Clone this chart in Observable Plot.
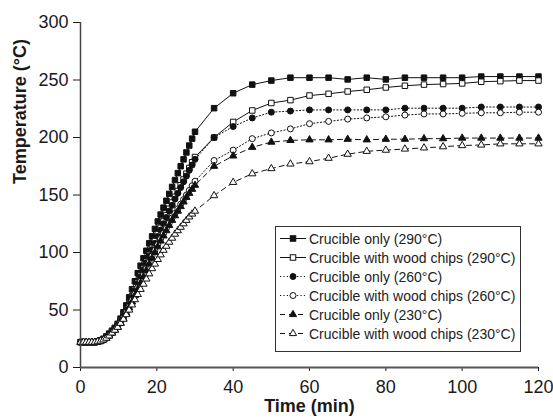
<!DOCTYPE html>
<html>
<head>
<meta charset="utf-8">
<script src="https://cdn.jsdelivr.net/npm/d3@7"></script>
<script src="https://cdn.jsdelivr.net/npm/@observablehq/plot@0.6"></script>
<style>
  body { margin: 0; background: #fff; font-family: "Liberation Sans", Arial, sans-serif; }
  #wrap { position: relative; width: 553px; height: 419px; }
  #legend { position: absolute; left: 275px; top: 226px; width: 246px; height: 126px; box-sizing: border-box;
            border: 1px solid #333; background: #fff; padding-top: 2px; }
  .row { display: flex; align-items: center; height: 19px; font-size: 14px; color: #222; white-space: nowrap; }
  .row svg { flex: none; margin-left: 2px; margin-right: 1px; }
</style>
</head>
<body>
<div id="wrap"><div id="chart"></div><div id="legend"></div></div>
<script>
// Time (min)
const times = [0,0.75,1.5,2.25,3,3.75,4.5,5.25,6,6.75,7.5,8.25,9,9.75,10.5,11.25,12,12.75,13.5,14.25,15,15.75,16.5,17.25,18,18.75,19.5,20.25,21,21.75,22.5,23.25,24,24.75,25.5,26.25,27,27.75,28.5,29.25,30,
  35,40,45,50,55,60,65,70,75,80,85,90,95,100,105,110,115,120];

// Temperature (°C) for each series
const only290 = [22,22,22,22,22,22,22.5,23.5,25,27,29.5,32,34.5,38,42.5,48,54,61,68,75,82,88.5,95,101.5,108,114,120.5,127,133,139,145,151,157,163,169,175,181,187,193,199,205,
  225.5,238.5,246,249.5,252,252,252,250.5,252,250.5,252,252,252,252,253,253,253,253];
const wood290 = [22,22,22,22,22,22,22.5,23,24.5,26,28.5,31,34,37.5,41,45.5,50.5,56,62,68,74,80,86,92,98,104,110,116,121.5,127,132.5,138,143.5,148.5,153.5,158.5,163.5,168.5,173.5,178.5,183,
  200,213.5,223.5,230,232.5,236.5,238,240,241.5,243.5,245,246,246.5,247,248.5,249,249.5,249.5];
const only260 = [22,22,22,22,22,22,22.5,23.5,24.5,26.5,28.5,31,34,37,40.5,45,50,55,61,67,73,79,85,91,97,102.5,108,114,119.5,125,130.5,136,141,146.5,151.5,156.5,161.5,166.5,171.5,176,181,
  200,209.5,217,222,223,224,224,224,224,224,225.5,225.5,225.5,225.5,226.5,226.5,226.5,226.5];
const wood260 = [22,22,22,22,22,22,22.5,23,24,25.5,27.5,30,32.5,35.5,39,43,48,53,58.5,64,69.5,75,80.5,86,91.5,97,102,107,112,116.5,121,125.5,130,134,138,142,146,150,154,158,162,
  180,189,199,204,207.5,212,214,216,217,218,219.5,220.5,220.5,221,221.5,221.5,222,222];
const only230 = [22,22,22,22,22,22,22.5,23,24,25.5,27.5,30,32.5,35,38.5,42.5,47,52,57,62.5,68,73.5,79,84.5,90,95,100,105,110,114.5,119,123.5,128,132,136,140,144,148,151.5,155,158.5,
  175,184,191.5,196,197.5,198,198,198.5,198,198.5,198.5,199,199,199.5,199.5,199.5,199.5,199.5];
const wood230 = [22,22,22,22,22,22,22.5,23,24,25.5,27.5,30,32.5,35,38.5,42,46,50,54.5,59,63.5,68,72.5,77,81.5,86,90,94,98,102,105.5,109,112.5,116,119,122,125,128,131,133.5,136,
  149.5,161,168.5,173,177,179,182,185.5,188,189,190,191,192,193,193.5,194.5,194.5,194.5];

const seriesNames = ["Crucible only (290°C)","Crucible with wood chips (290°C)","Crucible only (260°C)",
  "Crucible with wood chips (260°C)","Crucible only (230°C)","Crucible with wood chips (230°C)"];
const xTicks = [0,20,40,60,80,100,120];
const yTicks = [0,50,100,150,200,250,300];

const seriesValues = [only290, wood290, only260, wood260, only230, wood230];
const styles = [
  {symbol:"square", fill:"#111", dash:null, r:3.1},
  {symbol:"square", fill:"#fff", dash:null, r:3.1},
  {symbol:"circle", fill:"#111", dash:"1.2,2.2", r:3},
  {symbol:"circle", fill:"#fff", dash:"1.2,2.2", r:3},
  {symbol:"triangle", fill:"#111", dash:"5,4", r:2.7},
  {symbol:"triangle", fill:"#fff", dash:"5,4", r:2.7}
];

const marks = [];
seriesValues.forEach((vals, k) => {
  const data = times.map((t, i) => ({t, T: vals[i]}));
  const st = styles[k];
  marks.push(Plot.line(data, {x:"t", y:"T", stroke:"#111", strokeWidth:1, strokeDasharray: st.dash || undefined}));
});
seriesValues.forEach((vals, k) => {
  const data = times.map((t, i) => ({t, T: vals[i]}));
  const st = styles[k];
  marks.push(Plot.dot(data, {x:"t", y:"T", symbol: st.symbol, r: st.r, fill: st.fill, stroke:"#111", strokeWidth:1}));
});

const chart = Plot.plot({
  width: 553, height: 419,
  marginLeft: 80, marginRight: 15, marginTop: 22, marginBottom: 52,
  style: {fontFamily: "'Liberation Sans', Arial, sans-serif", fontSize: "18px", color: "#1a1a1a", background: "#fff"},
  x: {domain: [0, 120]},
  y: {domain: [0, 300]},
  marks: [
    Plot.axisY(yTicks, {tickSize: 7, tickPadding: 5, fontSize: 18, label: null}),
    Plot.axisX(xTicks, {tickSize: 4, tickPadding: 9, fontSize: 18, label: null}),
    ...marks,
    Plot.ruleX([0], {stroke: "#444", strokeWidth: 1.5}),
    Plot.ruleY([0], {stroke: "#555", strokeWidth: 2}),
    Plot.text(["Time (min)"], {frameAnchor: "bottom", dy: 44, fontWeight: "bold", fontSize: 18}),
    Plot.text(["Temperature (°C)"], {frameAnchor: "left", dx: -60, dy: -11, rotate: -90, fontWeight: "bold", fontSize: 18})
  ]
});
document.getElementById("chart").appendChild(chart);

// Legend
const legend = document.getElementById("legend");
seriesNames.forEach((name, k) => {
  const st = styles[k];
  const row = document.createElement("div");
  row.className = "row";
  const cx = 15, cy = 9.5, r = st.r;
  let sym;
  if (st.symbol === "square") {
    const s = r * Math.sqrt(Math.PI);
    sym = `<rect x="${cx - s/2}" y="${cy - s/2}" width="${s}" height="${s}" fill="${st.fill}" stroke="#111"/>`;
  } else if (st.symbol === "circle") {
    sym = `<circle cx="${cx}" cy="${cy}" r="${r}" fill="${st.fill}" stroke="#111"/>`;
  } else {
    const p = d3.symbol(d3.symbolTriangle, Math.PI * r * r)();
    sym = `<path transform="translate(${cx},${cy})" d="${p}" fill="${st.fill}" stroke="#111"/>`;
  }
  row.innerHTML = `<svg width="30" height="19"><line x1="2" x2="28" y1="${cy}" y2="${cy}" stroke="#111" stroke-width="1" ${st.dash ? `stroke-dasharray="${st.dash}"` : ""}/>${sym}</svg><span>${name}</span>`;
  legend.appendChild(row);
});
</script>
</body>
</html>
